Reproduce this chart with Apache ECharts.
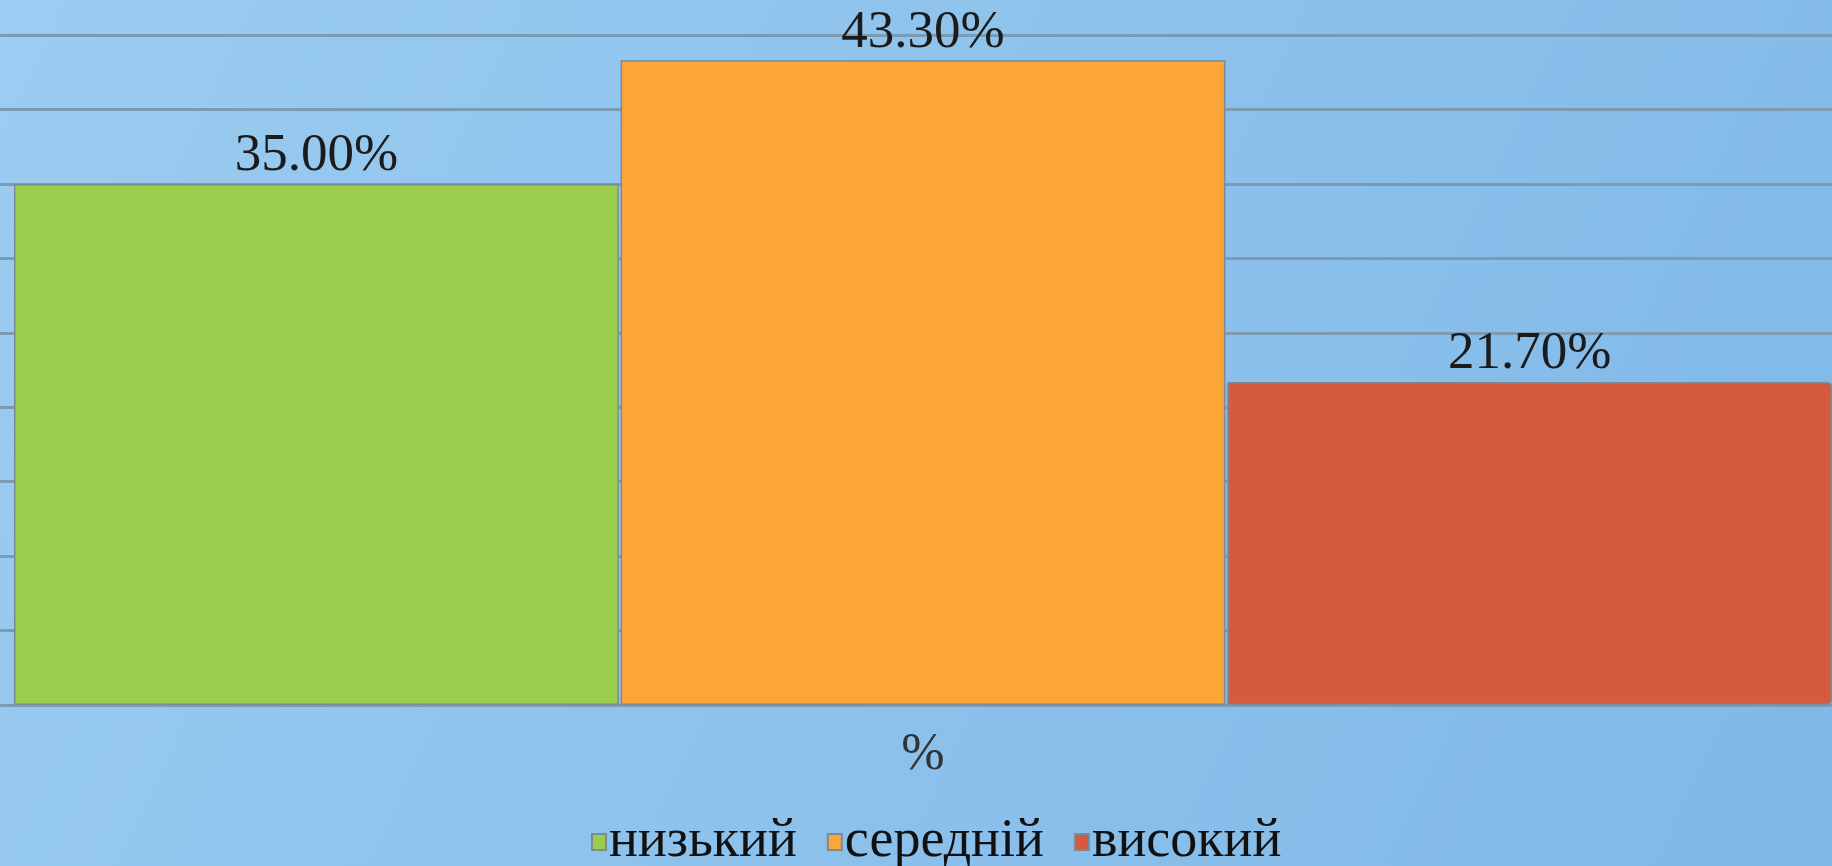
<!DOCTYPE html>
<html>
<head>
<meta charset="utf-8">
<title>Рівні</title>
<script src="https://cdn.jsdelivr.net/npm/echarts@6/dist/echarts.min.js"></script>
<style>
  html, body { margin: 0; padding: 0; }
  #chart { width: 1832px; height: 866px; }
</style>
</head>
<body>
<div id="chart"></div>
<script>
// дані з діаграми
const categories = ['%'];
const seriesNames = ['низький', 'середній', 'високий'];
const seriesValues = [[35.0], [43.3], [21.7]];
const colors = ['#9bcd4c', '#fca63a', '#d45a40'];

const gridColor = '#7b9ab3';
const serif = '"Liberation Serif", "DejaVu Serif", serif';

const chart = echarts.init(document.getElementById('chart'));

const series = seriesNames.map((name, i) => ({
  name: name,
  type: 'bar',
  data: seriesValues[i],
  barGap: '0.3%',
  barCategoryGap: '0%',
  itemStyle: {
    color: colors[i],
    borderColor: '#7d8a96',
    borderWidth: 1.5,
    borderRadius: i === 2 ? [0, 4, 4, 0] : 0
  },
  label: {
    show: true,
    position: 'top',
    distance: 1,
    fontFamily: serif,
    fontSize: 53,
    color: '#1b1b1b',
    formatter: p => p.value.toFixed(2) + '%'
  }
}));

const option = {
  backgroundColor: new echarts.graphic.LinearGradient(0, 0, 1, 1, [
    { offset: 0, color: '#9bccf1' },
    { offset: 1, color: '#7fb8e7' }
  ]),
  animation: false,
  grid: {
    left: 14,
    right: 0,
    top: 35,
    bottom: 161
  },
  legend: {
    top: 810,
    left: 586,
    itemWidth: 14,
    itemHeight: 16,
    itemGap: 30,
    icon: 'rect',
    textStyle: {
      fontFamily: serif,
      fontSize: 54,
      color: '#111',
      padding: [0, 0, 0, -2]
    },
    data: seriesNames
  },
  xAxis: {
    type: 'category',
    data: categories,
    axisLine: { lineStyle: { color: gridColor, width: 3 } },
    axisTick: { show: false },
    axisLabel: {
      margin: 24,
      fontFamily: serif,
      fontSize: 52,
      color: '#333'
    }
  },
  yAxis: {
    type: 'value',
    min: 0,
    max: 45,
    interval: 5,
    axisLine: { show: false },
    axisLabel: { show: false },
    axisTick: { show: true, length: 14, lineStyle: { color: gridColor, width: 3 } },
    splitLine: { lineStyle: { color: gridColor, width: 3 } }
  },
  series: series
};

chart.setOption(option);
</script>
</body>
</html>
